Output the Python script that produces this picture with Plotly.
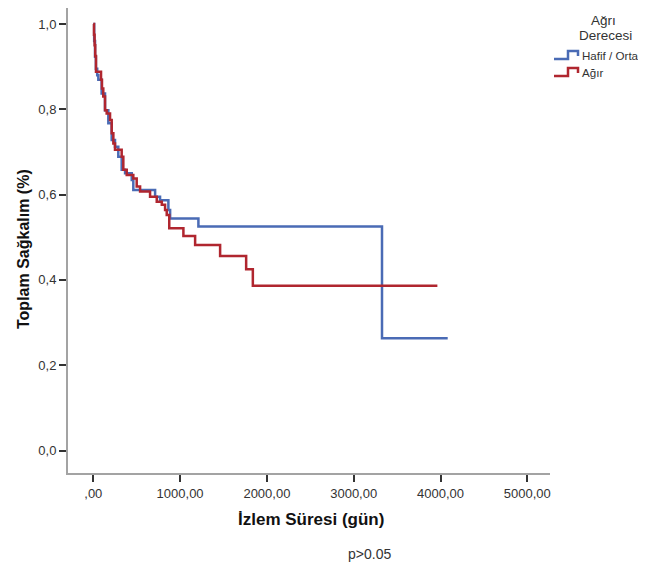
import plotly.graph_objects as go

# ---------------- data ----------------
groups = ["Hafif / Orta", "Ağır"]
legend_title = ["Ağrı", "Derecesi"]

time_hafif = [0, 10, 20, 30, 45, 58, 96, 135, 173, 212, 250, 288, 327, 366, 443, 461,
              712, 769, 865, 885, 1211, 3326, 4083]
surv_hafif = [1.0, 0.96, 0.923, 0.895, 0.88, 0.869, 0.837, 0.798, 0.767, 0.728, 0.712,
              0.689, 0.658, 0.65, 0.634, 0.611, 0.595, 0.587, 0.564, 0.544, 0.525, 0.263, 0.263]

time_agir = [0, 8, 15, 22, 31, 89, 100, 115, 135, 154, 193, 212, 231, 250, 327, 346, 385,
             461, 500, 539, 654, 731, 789, 827, 846, 875, 1038, 1173, 1461, 1761, 1838, 3964]
surv_agir = [1.0, 0.975, 0.95, 0.925, 0.888, 0.869, 0.849, 0.83, 0.798, 0.79, 0.775, 0.744,
             0.72, 0.705, 0.689, 0.658, 0.646, 0.638, 0.619, 0.607, 0.595, 0.583, 0.576, 0.564,
             0.552, 0.521, 0.503, 0.482, 0.456, 0.425, 0.386, 0.386]

x_tickvals = [0, 1000, 2000, 3000, 4000, 5000]
x_ticktext = [",00", "1000,00", "2000,00", "3000,00", "4000,00", "5000,00"]
y_tickvals = [0, 0.2, 0.4, 0.6, 0.8, 1.0]
y_ticktext = ["0,0", "0,2", "0,4", "0,6", "0,8", "1,0"]

x_title = "İzlem Süresi (gün)"
y_title = "Toplam Sağkalım (%)"
note = "p>0.05"

# ---------------- styling ----------------
colors = ["#4a6bb5", "#b0262f"]
OFF = 8                      # page body margin offset
W, H = 646 - OFF, 571 - OFF
# plot area in page (screen) pixels
L, R, T, B = 68, 550, 8, 473
FONT = "Liberation Sans, Arial, sans-serif"


def px(x):
    return (x - L) / (R - L)


def py(y):
    return (B - y) / (B - T)


fig = go.Figure()
series = [(time_hafif, surv_hafif), (time_agir, surv_agir)]
for name, (t, s), c in zip(groups, series, colors):
    fig.add_trace(go.Scatter(
        x=t, y=s, mode="lines", name=name,
        line=dict(color=c, width=2.5, shape="hv"),
        showlegend=False,
    ))

axis_common = dict(
    showgrid=False, zeroline=False, showline=True, linecolor="#a3a3a3", linewidth=2,
    ticks="outside", ticklen=7, tickwidth=1.5, tickcolor="#333333",
    tickfont=dict(family=FONT, size=13, color="#333333"),
)

# x: 0 -> 93.3 px, 5000 -> 527.3 px ; y: 1.0 -> 24 px, 0 -> 450.5 px
xs = 434.0 / 5000
ys = 426.5
fig.update_xaxes(range=[(L - 93.3) / xs, (R - 93.3) / xs],
                 tickvals=x_tickvals, ticktext=x_ticktext, **axis_common)
fig.update_yaxes(range=[(450.5 - B) / ys, (450.5 - T) / ys],
                 tickvals=y_tickvals, ticktext=y_ticktext, **axis_common)

annotations = [
    dict(text=f"<b>{y_title}</b>", x=px(23), y=py(249), textangle=-90,
         font=dict(family=FONT, size=16, color="#111111")),
    dict(text=f"<b>{x_title}</b>", x=px(311), y=py(519),
         font=dict(family=FONT, size=17, color="#111111")),
    dict(text=note, x=px(369), y=py(554),
         font=dict(family=FONT, size=14, color="#333333")),
    dict(text=legend_title[0], x=px(603), y=py(21),
         font=dict(family=FONT, size=13.5, color="#333333")),
    dict(text=legend_title[1], x=px(605), y=py(35),
         font=dict(family=FONT, size=13.5, color="#333333")),
]
shapes = []
for i, (name, c) in enumerate(zip(groups, colors)):
    yc = 55 + i * 17
    annotations.append(dict(text=name, x=px(580), y=py(yc), xanchor="left",
                            font=dict(family=FONT, size=11.6, color="#333333")))
    path = (f"M {px(554)},{py(yc + 4)} L {px(568)},{py(yc + 4)} L {px(568)},{py(yc - 4)} "
            f"L {px(578)},{py(yc - 4)} L {px(578)},{py(yc + 1)}")
    shapes.append(dict(type="path", path=path, xref="paper", yref="paper",
                       line=dict(color=c, width=2.5)))

for a in annotations:
    a.setdefault("xanchor", "center")
    a.update(xref="paper", yref="paper", yanchor="middle", showarrow=False)

fig.update_layout(
    width=W, height=H,
    margin=dict(l=L - OFF, r=646 - R, t=T - OFF, b=571 - B, pad=0),
    paper_bgcolor="white", plot_bgcolor="white",
    annotations=annotations, shapes=shapes,
    showlegend=False,
)

fig.write_html("out.html")
